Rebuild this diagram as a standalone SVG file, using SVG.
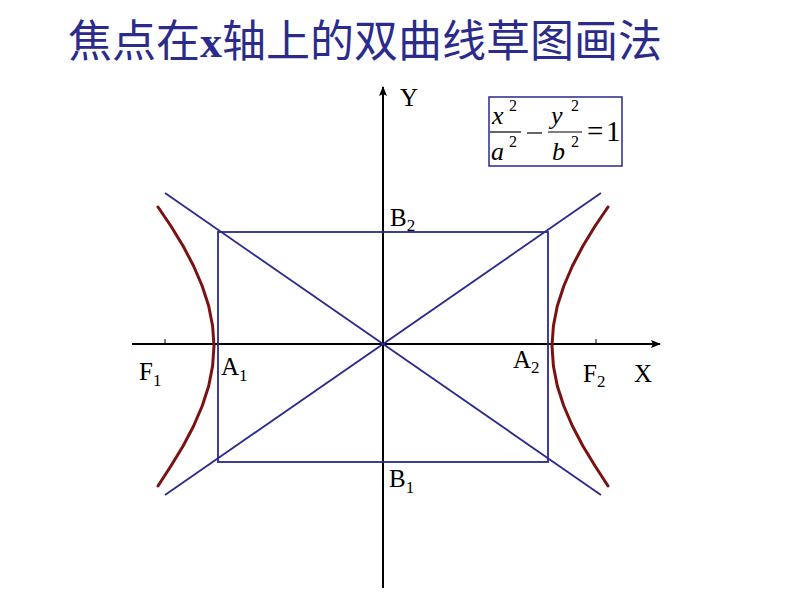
<svg xmlns="http://www.w3.org/2000/svg" width="794" height="596" viewBox="0 0 794 596">
<defs>
<marker id="arr" viewBox="0 0 10 8" refX="9" refY="4" markerWidth="10" markerHeight="8" markerUnits="userSpaceOnUse" orient="auto">
<path d="M0,0 L10,4 L0,8 L2,4 z" fill="#000"/>
</marker>
<style>
.axis{stroke:#000;stroke-width:2;fill:none}
.blue{stroke:#2a2a8c;stroke-width:1.8;fill:none}
.hyp{stroke:#7a1212;stroke-width:3;fill:none;stroke-linejoin:round;stroke-linecap:round}
.lbl{font-family:"Liberation Serif",serif;font-size:25px;fill:#000}
.sub{font-size:17px}
.f{font-family:"Liberation Serif",serif;font-size:26px;fill:#000}
.fi{font-style:italic}
.sup{font-size:16px}
.big{font-size:29px}
</style>
</defs>
<rect width="794" height="596" fill="#fff"/>
<text id="title" x="68" y="57" font-family="'Noto Sans CJK SC',sans-serif" font-size="44" fill="#2b2b8c">焦点在<tspan font-family="'Liberation Serif',serif" font-weight="bold">x</tspan>轴上的双曲线草图画法</text>
<g id="connectors">
<line class="axis" x1="132" y1="344" x2="660" y2="344" marker-end="url(#arr)"/>
<line class="axis" x1="383" y1="588" x2="383" y2="87" marker-end="url(#arr)"/>
<line x1="165" y1="339" x2="165" y2="344" stroke="#000" stroke-width="1"/>
<line x1="596" y1="339" x2="596" y2="344" stroke="#000" stroke-width="1"/>
<line class="blue" x1="165" y1="193" x2="601" y2="495"/>
<line class="blue" x1="165" y1="495" x2="601" y2="193"/>
</g>
<g id="rectangle">
<rect class="blue" x="218" y="232" width="330" height="230"/>
</g>
<g id="hyperbola-left">
<polyline class="hyp" points="158,207 170.9,226 183.1,246 193.6,266 202.2,286 208.7,306 212.6,326 214,346 212.6,366 208.7,386 202.2,406 193.6,426 183.1,446 170.9,466 158,486"/>
</g>
<g id="hyperbola-right">
<polyline class="hyp" points="608,207 595.1,226 582.9,246 572.4,266 563.8,286 557.3,306 553.4,326 552,346 553.4,366 557.3,386 563.8,406 572.4,426 582.9,446 595.1,466 608,486"/>
</g>
<g id="labels">
<text class="lbl" x="400" y="106">Y</text>
<text class="lbl" x="634" y="382">X</text>
<text class="lbl" x="390" y="226">B<tspan class="sub" dy="5">2</tspan></text>
<text class="lbl" x="389" y="487">B<tspan class="sub" dy="6">1</tspan></text>
<text class="lbl" x="139" y="380">F<tspan class="sub" dy="6">1</tspan></text>
<text class="lbl" x="221" y="375">A<tspan class="sub" dy="6">1</tspan></text>
<text class="lbl" x="513" y="368">A<tspan class="sub" dy="5">2</tspan></text>
<text class="lbl" x="583" y="382">F<tspan class="sub" dy="5">2</tspan></text>
</g>
<g id="formula">
<rect x="489" y="97" width="133" height="69" fill="#fff" stroke="#2a2a8c" stroke-width="1.5"/>
<text class="f fi" x="492" y="124">x</text>
<text class="f sup" x="509" y="111">2</text>
<line x1="490" y1="132" x2="521" y2="132" stroke="#000" stroke-width="1.2"/>
<text class="f fi" x="491" y="160">a</text>
<text class="f sup" x="509" y="147">2</text>
<line x1="527" y1="133" x2="542" y2="133" stroke="#000" stroke-width="1.2"/>
<text class="f fi" x="551" y="124">y</text>
<text class="f sup" x="571" y="111">2</text>
<line x1="548" y1="132" x2="582" y2="132" stroke="#000" stroke-width="1.2"/>
<text class="f fi" x="552" y="160">b</text>
<text class="f sup" x="571" y="147">2</text>
<text class="f big" x="587" y="141">=</text>
<text class="f big" x="606" y="141">1</text>
</g>
</svg>
